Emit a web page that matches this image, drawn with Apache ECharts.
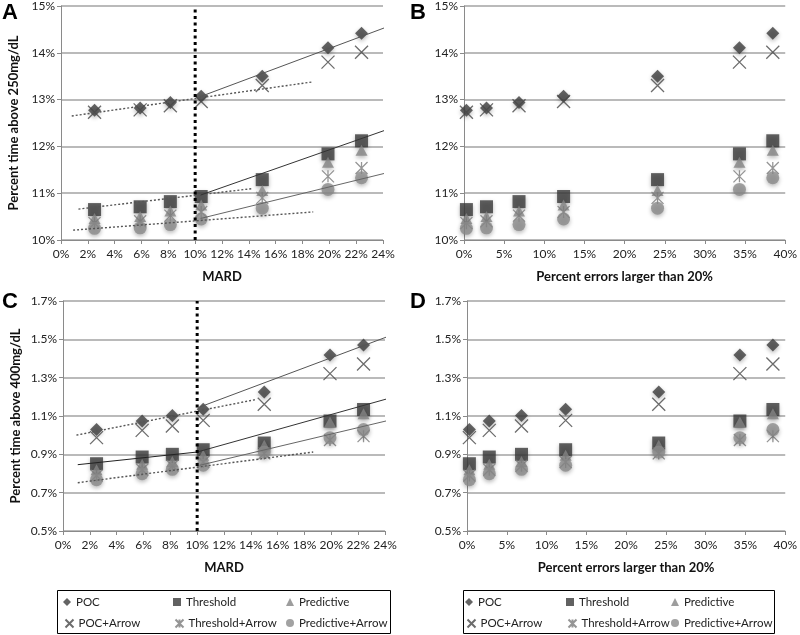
<!DOCTYPE html>
<html>
<head>
<meta charset="utf-8">
<script src="https://cdn.jsdelivr.net/npm/echarts@6/dist/echarts.min.js"></script>
<style>
html,body{margin:0;padding:0;background:#fff;}
#chart{width:800px;height:635px;}
</style>
</head>
<body>
<div id="chart"></div>
<script>
// ---------- data ----------
const seriesNames = ['POC', 'Threshold', 'Predictive', 'POC+Arrow', 'Threshold+Arrow', 'Predictive+Arrow'];

// x positions
const mardX = [2.5, 5.9, 8.15, 10.45, 15.0, 19.9, 22.4];      // MARD (%)
const errX  = [0.3, 2.8, 6.85, 12.4, 24.1, 34.3, 38.45];      // percent errors > 20% (%)

// Percent time above 250 mg/dL
const poc250        = [12.77, 12.82, 12.94, 13.07, 13.50, 14.11, 14.42];
const thr250        = [10.65, 10.71, 10.82, 10.93, 11.29, 11.84, 12.12];
const pred250       = [10.46, 10.50, 10.62, 10.75, 11.06, 11.66, 11.92];
const pocArrow250   = [12.73, 12.78, 12.87, 12.96, 13.30, 13.80, 14.01];
const thrArrow250   = [10.36, 10.40, 10.52, 10.60, 10.90, 11.36, 11.54];
const predArrow250  = [10.25, 10.26, 10.33, 10.45, 10.68, 11.08, 11.33];

// Percent time above 400 mg/dL
const poc400        = [1.030, 1.074, 1.103, 1.135, 1.225, 1.418, 1.470];
const thr400        = [0.851, 0.886, 0.900, 0.924, 0.959, 1.074, 1.134];
const pred400       = [0.820, 0.848, 0.862, 0.895, 0.947, 1.069, 1.112];
const pocArrow400   = [0.987, 1.025, 1.048, 1.077, 1.161, 1.321, 1.371];
const thrArrow400   = [0.790, 0.820, 0.840, 0.860, 0.905, 0.975, 0.995];
const predArrow400  = [0.768, 0.799, 0.822, 0.843, 0.912, 0.987, 1.029];

// trend lines (endpoints in data units: [MARD %, value %])
const pocPre250       = [[0.8, 12.65], [18.8, 13.38]];
const pocPost250      = [[10.35, 13.06], [25.2, 14.65]];
const thrPre250       = [[1.3, 10.66], [14.3, 11.10]];
const thrPost250      = [[10.4, 10.96], [25.2, 12.45]];
const predArrPre250   = [[0.9, 10.21], [18.8, 10.60]];
const predArrPost250  = [[10.4, 10.46], [25.2, 11.50]];

const pocPre400       = [[1.0, 1.000], [14.3, 1.185]];
const pocPost400      = [[10.2, 1.147], [25.1, 1.538]];
const thrPre400       = [[1.1, 0.846], [10.0, 0.912]];
const thrPost400      = [[10.0, 0.912], [25.1, 1.208]];
const predArrPre400   = [[1.1, 0.752], [18.65, 0.912]];
const predArrPost400  = [[10.2, 0.843], [25.1, 1.091]];

// MARD cut-off
const mardCut = 10;

// axis ticks
const yTicks250 = [10, 15, 1];
const yTicks400 = [0.5, 1.7, 0.2];
const xTicksMard = [0, 24, 2];
const xTicksErr = [0, 40, 5];

// ---------- styling ----------
const FONT = 'Lato, "Open Sans", sans-serif';
const shadow = {shadowBlur: 4, shadowColor: 'rgba(0,0,0,0.35)', shadowOffsetY: 2};
const markerStyles = {
  'POC':              {symbol: 'diamond', symbolSize: 13, itemStyle: Object.assign({color: '#3d3d3d'}, shadow)},
  'Threshold':        {symbol: 'rect', symbolSize: 13, itemStyle: Object.assign({color: '#3a3a3a'}, shadow)},
  'Predictive':       {symbol: 'triangle', symbolSize: [12, 11], itemStyle: Object.assign({color: '#858585'}, shadow)},
  'POC+Arrow':        {symbol: 'path://M0,0L10,10M10,0L0,10', symbolSize: 13,
                       itemStyle: {color: 'none', borderColor: '#474747', borderWidth: 1.3}},
  'Threshold+Arrow':  {symbol: 'path://M0,0L10,10M10,0L0,10M5,0L5,10', symbolSize: 12,
                       itemStyle: {color: 'none', borderColor: '#7a7a7a', borderWidth: 1.3}},
  'Predictive+Arrow': {symbol: 'circle', symbolSize: 13, itemStyle: Object.assign({color: '#8b8b8b'}, shadow)}
};

const vals250 = [poc250, thr250, pred250, pocArrow250, thrArrow250, predArrow250];
const vals400 = [poc400, thr400, pred400, pocArrow400, thrArrow400, predArrow400];

function scatterSeries(xs, vals, axisIndex) {
  return seriesNames.map((name, i) => Object.assign({
    type: 'scatter', name: name,
    xAxisIndex: axisIndex, yAxisIndex: axisIndex,
    data: xs.map((x, k) => [x, vals[i][k]]),
    z: 3
  }, JSON.parse(JSON.stringify(markerStyles[name]))));
}

function trend(data, axisIndex, dotted, color) {
  return {
    type: 'line', data: data, xAxisIndex: axisIndex, yAxisIndex: axisIndex,
    showSymbol: false, clip: false, silent: true, z: 4,
    lineStyle: {color: color || (dotted ? '#555' : '#444'), width: dotted ? 1.4 : 1, type: dotted ? [2, 2] : 'solid'},
    emphasis: {disabled: true}
  };
}

function cutLine(axisIndex, yr) {
  return {
    type: 'line', data: [[mardCut, yr[0]], [mardCut, yr[1]]],
    xAxisIndex: axisIndex, yAxisIndex: axisIndex, showSymbol: false, silent: true, z: 5,
    lineStyle: {color: '#000', width: 3, type: [3, 3.5]}
  };
}

function xAxis(gridIndex, t, name) {
  return {
    type: 'value', gridIndex: gridIndex, min: t[0], max: t[1], interval: t[2],
    name: name, nameLocation: 'middle', nameGap: 30,
    nameTextStyle: {fontFamily: FONT, fontWeight: 'bold', fontSize: 13, color: '#111'},
    axisLine: {show: true, lineStyle: {color: '#8a8a8a', width: 1}},
    axisTick: {show: true, length: 4, lineStyle: {color: '#8a8a8a'}},
    axisLabel: {formatter: v => Math.round(v) + '%', fontFamily: FONT, fontSize: 12, color: '#222', margin: 8},
    splitLine: {show: false}
  };
}

function yAxis(gridIndex, t, dec, name) {
  return {
    type: 'value', gridIndex: gridIndex, min: t[0], max: t[1], interval: t[2],
    name: name, nameLocation: 'middle', nameGap: 41, nameRotate: 90,
    nameTextStyle: {fontFamily: FONT, fontWeight: 'bold', fontSize: 13, color: '#111'},
    axisLine: {show: true, lineStyle: {color: '#8a8a8a', width: 1}},
    axisTick: {show: true, length: 4, lineStyle: {color: '#8a8a8a'}},
    axisLabel: {formatter: v => v.toFixed(dec) + '%', fontFamily: FONT, fontSize: 12, color: '#222', margin: 6},
    splitLine: {show: true, lineStyle: {color: '#a3a3a3', width: 1.5}}
  };
}

// legends: one component per item, laid out in a 3x2 grid inside each box
const legendCols = [[63, 173, 286], [465, 566, 671]];
const legendRows = [596, 617];
const legends = [];
legendCols.forEach(cols => {
  seriesNames.forEach((name, i) => {
    legends.push({
      data: [{name: name, icon: markerStyles[name].symbol}],
      left: cols[i % 3], top: legendRows[Math.floor(i / 3)],
      itemWidth: 8, itemHeight: 8, padding: 0, selectedMode: false,
      itemStyle: {shadowBlur: 0, shadowOffsetY: 0, shadowColor: 'transparent'},
      textStyle: {fontFamily: FONT, fontSize: 11.5, color: '#222'}
    });
  });
});

const series = []
  .concat(scatterSeries(mardX, vals250, 0))
  .concat(scatterSeries(errX, vals250, 1))
  .concat(scatterSeries(mardX, vals400, 2))
  .concat(scatterSeries(errX, vals400, 3))
  .concat([
    trend(pocPre250, 0, true), trend(pocPost250, 0, false, '#555'),
    trend(thrPre250, 0, true), trend(thrPost250, 0, false, '#333'),
    trend(predArrPre250, 0, true), trend(predArrPost250, 0, false, '#666'),
    trend(pocPre400, 2, true), trend(pocPost400, 2, false, '#555'),
    trend(thrPre400, 2, false, '#222'), trend(thrPost400, 2, false, '#333'),
    trend(predArrPre400, 2, true), trend(predArrPost400, 2, false, '#666'),
    cutLine(0, [yTicks250[0], yTicks250[1]]),
    cutLine(2, [yTicks400[0], yTicks400[1]])
  ]);

const letterStyle = {fontFamily: '"Liberation Sans", Arial, sans-serif', fontWeight: 'bold', fontSize: 22, fill: '#000'};

const option = {
  animation: false,
  backgroundColor: '#fff',
  grid: [
    {left: 61, top: 5, width: 322, height: 235},
    {left: 464, top: 5, width: 325, height: 235},
    {left: 63, top: 301, width: 322, height: 230},
    {left: 467, top: 301, width: 322, height: 230}
  ],
  xAxis: [
    xAxis(0, xTicksMard, 'MARD'),
    xAxis(1, xTicksErr, 'Percent errors larger than 20%'),
    xAxis(2, xTicksMard, 'MARD'),
    xAxis(3, xTicksErr, 'Percent errors larger than 20%')
  ],
  yAxis: [
    yAxis(0, yTicks250, 0, 'Percent time above 250mg/dL'),
    yAxis(1, yTicks250, 0, ''),
    yAxis(2, yTicks400, 1, 'Percent time above 400mg/dL'),
    yAxis(3, yTicks400, 1, '')
  ],
  legend: legends,
  series: series,
  graphic: [
    {type: 'text', left: 2, top: 2, style: Object.assign({text: 'A'}, letterStyle)},
    {type: 'text', left: 410, top: 2, style: Object.assign({text: 'B'}, letterStyle)},
    {type: 'text', left: 2, top: 291, style: Object.assign({text: 'C'}, letterStyle)},
    {type: 'text', left: 410, top: 291, style: Object.assign({text: 'D'}, letterStyle)},
    {type: 'rect', shape: {x: 57.5, y: 590.5, width: 333, height: 43}, style: {fill: 'none', stroke: '#000', lineWidth: 1}},
    {type: 'rect', shape: {x: 463.5, y: 590.5, width: 311, height: 43}, style: {fill: 'none', stroke: '#000', lineWidth: 1}}
  ]
};

const chart = echarts.init(document.getElementById('chart'), null, {renderer: 'canvas'});
chart.setOption(option);
</script>
</body>
</html>
